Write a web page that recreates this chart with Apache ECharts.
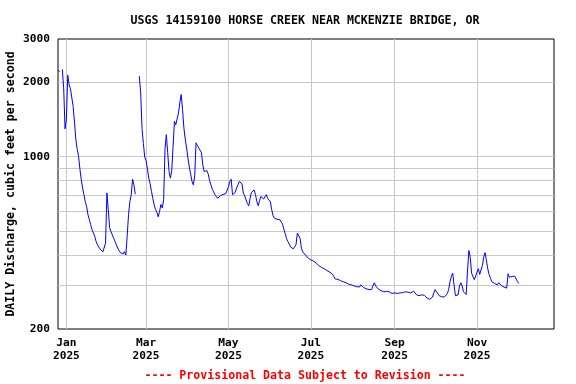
<!DOCTYPE html>
<html>
<head>
<meta charset="utf-8">
<script src="https://cdn.jsdelivr.net/npm/echarts@6/dist/echarts.min.js"></script>
<style>html,body{margin:0;padding:0;background:#fff}#c{width:576px;height:384px}</style>
</head>
<body>
<div id="c"></div>
<script>
// Daily mean discharge (cfs), first value = 2024-12-26, one value per day; null = missing
var startDate = [2024, 11, 26];
var flows = [
2240,2210,null,2260,1900,1296,1415,2140,1960,1885,1860,1600,1380,1175,1070,1005,893,806,746,701,
657,627,581,555,530,505,490,475,453,439,430,422,416,411,404,446,712,610,515,497,
482,467,453,439,426,416,408,403,403,412,399,475,581,657,701,810,768,705,null,null,
2120,1815,1300,1130,997,963,893,818,776,723,677,637,610,595,570,600,640,619,668,1070,
1228,1037,871,818,880,1100,1390,1347,1370,1503,1660,1785,1550,1308,1175,1085,987,908,851,793,
768,835,1138,1110,1085,1100,1037,925,871,865,878,851,800,768,738,720,701,690,677,677,
695,703,703,703,708,701,755,793,810,701,694,716,746,768,793,798,776,712,694,668,
645,632,677,716,716,733,701,657,632,663,690,687,673,687,701,677,668,657,610,577,
563,554,557,557,555,549,533,508,487,465,453,442,430,424,423,419,439,490,497,467,
425,411,405,399,393,388,385,381,381,377,372,370,365,361,358,355,354,351,347,345,
342,340,337,334,327,319,318,318,316,314,311,311,308,308,306,304,303,302,300,299,
299,297,297,296,302,299,295,293,291,289,289,289,289,300,308,299,295,290,286,286,
286,283,283,284,286,283,280,279,279,280,279,279,280,280,281,281,282,283,283,282,
281,280,282,285,280,276,273,273,274,275,276,274,270,267,265,264,262,269,280,289,
283,278,273,270,270,270,270,272,278,289,311,327,337,302,273,272,275,299,308,299,
283,279,276,347,416,390,337,326,317,316,340,351,333,335,362,393,408,415,350,332,
321,311,311,306,303,302,308,303,300,297,296,293,293,335,324,320,327,332,327,319,
311,306
];
var xTickDates = ['2025-01-01','2025-03-01','2025-05-01','2025-07-01','2025-09-01','2025-11-01'];
var monthNames = ['Jan','Feb','Mar','Apr','May','Jun','Jul','Aug','Sep','Oct','Nov','Dec'];
var yGridValues = [300,400,500,600,700,800,900,1000,2000];
var yLabelValues = [200,1000,2000,3000];
var titleText = 'USGS 14159100 HORSE CREEK NEAR MCKENZIE BRIDGE, OR';
var yName = 'DAILY Discharge, cubic feet per second';
var footText = '---- Provisional Data Subject to Revision ----';

var DAY = 86400000;
var t0 = Date.UTC(startDate[0], startDate[1], startDate[2]);
var seriesData = flows.map(function (v, i) { return [t0 + i * DAY, v]; });
function parseD(s) { var p = s.split('-'); return Date.UTC(+p[0], +p[1] - 1, +p[2]); }
var xTicks = xTickDates.map(parseD);
var xMin = Date.UTC(2024, 11, 25, 19);
var xMax = Date.UTC(2025, 11, 28, 0);

var FONT = '"DejaVu Sans Mono", "Liberation Mono", monospace';
var chart = echarts.init(document.getElementById('c'), null, {renderer: 'canvas'});
chart.setOption({
  animation: false,
  backgroundColor: '#ffffff',
  title: [{
    text: titleText, left: 300, top: 10, textAlign: 'center',
    textStyle: {fontFamily: FONT, fontWeight: 'bold', fontSize: 11.6, color: '#000'}
  }, {
    text: footText, left: 300, top: 365, textAlign: 'center',
    textStyle: {fontFamily: FONT, fontWeight: 'bold', fontSize: 11.6, color: '#ff0000'}
  }],
  grid: {left: 58, top: 39, width: 496, height: 290, show: true, borderColor: '#000', borderWidth: 1,
         backgroundColor: 'transparent', containLabel: false, outerBoundsMode: 'none'},
  xAxis: {
    type: 'value', min: xMin, max: xMax,
    axisLine: {show: false}, axisTick: {show: false, customValues: xTicks},
    splitLine: {show: true, lineStyle: {color: '#c8c8c8', width: 1}},
    axisLabel: {
      customValues: xTicks, margin: 8, color: '#000', fontFamily: FONT, fontWeight: 'bold', fontSize: 11.2, lineHeight: 12.5,
      formatter: function (v) { var d = new Date(v); return monthNames[d.getUTCMonth()] + '\n' + d.getUTCFullYear(); }
    }
  },
  yAxis: {
    type: 'log', logBase: 10, min: 200, max: 3000,
    axisLine: {show: false}, axisTick: {show: false, customValues: yGridValues},
    splitLine: {show: true, lineStyle: {color: '#c8c8c8', width: 1}},
    axisLabel: {
      customValues: yLabelValues, margin: 8, color: '#000', fontFamily: FONT, fontWeight: 'bold', fontSize: 11.2,
      formatter: function (v) { return String(Math.round(v)); }
    },
    name: yName, nameLocation: 'middle', nameRotate: 90, nameGap: 41, nameMoveOverlap: false,
    nameTextStyle: {fontFamily: FONT, fontWeight: 'bold', fontSize: 11.6, color: '#000'}
  },
  series: [{
    type: 'line', data: seriesData, showSymbol: false, connectNulls: false,
    lineStyle: {color: '#0000ff', width: 1}, itemStyle: {color: '#0000ff'}
  }]
});
</script>
</body>
</html>
